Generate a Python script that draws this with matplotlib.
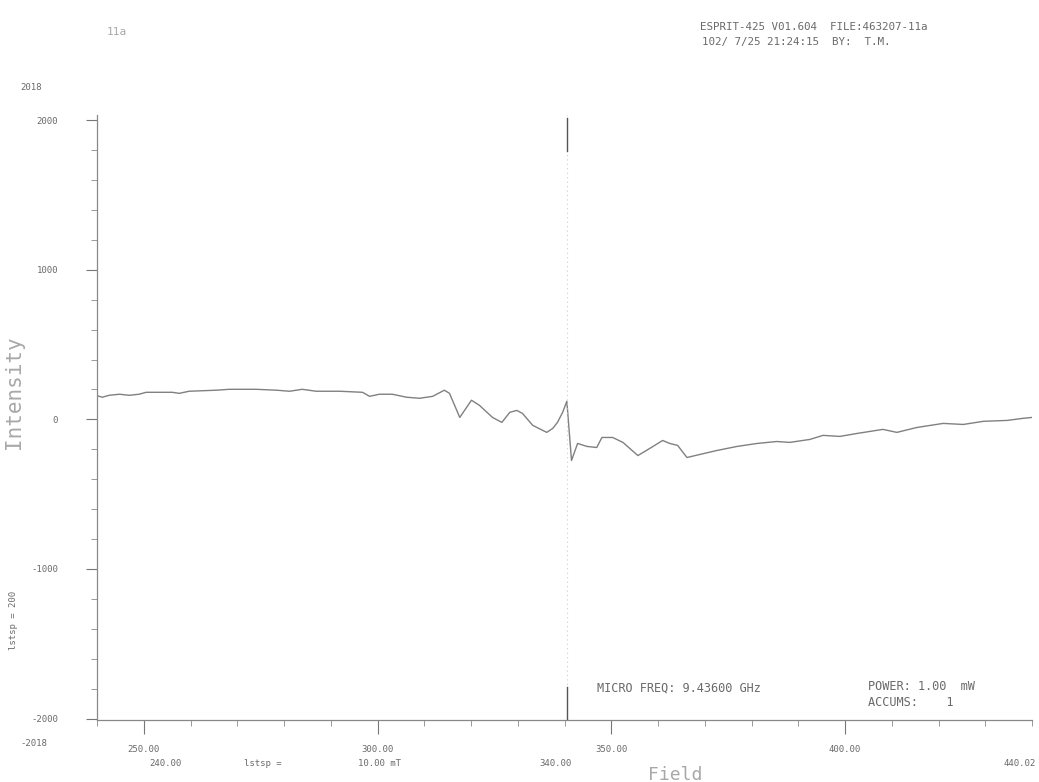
"""ESR spectrum replot: first-derivative trace vs magnetic field, plotter-style layout."""
import matplotlib
matplotlib.use("Agg")
import matplotlib.pyplot as plt
from matplotlib.ticker import MultipleLocator, FixedLocator

# field (mT) and intensity (a.u.)
field = [239.8, 241.1, 242.6, 244.8, 246.9, 249.0, 250.5, 253.3, 256.1, 257.6,
         259.7, 265.5, 268.3, 274.1, 278.4, 281.2, 283.9, 286.9, 289.7, 291.9,
         296.8, 298.3, 300.4, 303.2, 306.2, 309.0, 311.8, 314.3, 315.4, 317.6,
         320.1, 321.8, 324.6, 326.6, 328.3, 329.8, 331.0, 333.2, 336.2, 337.5,
         338.5, 339.6, 340.5, 341.5, 342.8, 344.8, 346.9, 348.0, 350.3, 352.5,
         355.7, 358.2, 361.0, 362.5, 364.2, 366.2, 368.9, 372.6, 376.9, 381.2,
         385.4, 388.2, 392.5, 395.3, 398.9, 402.6, 408.1, 411.1, 415.4, 421.0,
         425.3, 429.6, 434.7, 438.1, 440.0]
intensity = [161, 148, 161, 168, 161, 168, 181, 181, 181, 174,
             188, 195, 201, 201, 195, 188, 201, 188, 188, 188,
             181, 154, 168, 168, 148, 141, 154, 195, 174, 13,
             128, 94, 13, -20, 47, 60, 40, -40, -87, -60,
             -20, 47, 121, -275, -161, -181, -188, -121, -121, -154,
             -242, -195, -141, -161, -174, -255, -235, -208, -181, -161,
             -148, -154, -134, -107, -114, -94, -67, -87, -54, -27,
             -34, -13, -7, 7, 13]

marker_field = 340.5          # field marker (vertical cursor)
x_range = (240.0, 440.0)
y_range = (-2010, 2035)
y_major = [-2000, -1000, 0, 1000, 2000]
x_major = [250, 300, 350, 400]

header = ["ESPRIT-425 V01.604  FILE:463207-11a",
          "102/ 7/25 21:24:15  BY:  T.M."]
freq_text = "MICRO FREQ: 9.43600 GHz"
power_text = "POWER: 1.00  mW"
accum_text = "ACCUMS:    1"

MONO = "DejaVu Sans Mono"
INK = "#6a6a6a"
FAINT = "#a8a8a8"

fig = plt.figure(figsize=(10.39, 7.82), dpi=100)
W, H = 1039, 782
ax = fig.add_axes([97 / W, (H - 720) / H, (1032 - 97) / W, (720 - 115) / H])

ax.plot(field, intensity, color="#808080", lw=1.0)

# cursor: dotted line with solid stubs at both ends
ax.axvline(marker_field, color="#cccccc", lw=0.8, ls=(0, (1, 3)))
ax.axvline(marker_field, ymin=0.94, ymax=0.995, color="#555555", lw=1.0)
ax.axvline(marker_field, ymin=0.0, ymax=0.055, color="#555555", lw=1.0)

ax.set_xlim(*x_range)
ax.set_ylim(*y_range)
for s in ("top", "right"):
    ax.spines[s].set_visible(False)
for s in ("left", "bottom"):
    ax.spines[s].set_color("#888888")
    ax.spines[s].set_linewidth(0.9)

ax.xaxis.set_major_locator(FixedLocator(x_major))
ax.xaxis.set_minor_locator(MultipleLocator(10))
ax.yaxis.set_major_locator(FixedLocator(y_major))
ax.yaxis.set_minor_locator(MultipleLocator(200))
ax.set_xticklabels([f"{v:.2f}" for v in x_major], fontfamily=MONO,
                   fontsize=6.5, color=INK)
ax.set_yticklabels([str(v) for v in y_major], fontfamily=MONO,
                   fontsize=6.5, color=INK)
ax.tick_params(axis="x", which="major", length=10, width=0.8, color="#777777", pad=8)
ax.tick_params(axis="x", which="minor", length=4, width=0.7, color="#999999")
ax.tick_params(axis="y", which="major", length=8, width=0.8, color="#777777", pad=20)
ax.tick_params(axis="y", which="minor", length=4, width=0.7, color="#999999")

# plotter annotations
def px_text(x, y, s, **kw):
    kw.setdefault("fontfamily", MONO)
    kw.setdefault("color", INK)
    kw.setdefault("fontsize", 6.5)
    fig.text(x / W, 1 - y / H, s, **kw)

px_text(700, 27, header[0], fontsize=7.8, va="center")
px_text(702, 42, header[1], fontsize=7.8, va="center")
px_text(107, 32, "11a", fontsize=8, color=FAINT, va="center")
px_text(20, 88, "2018", va="center")
px_text(20, 743, "-2018", va="center")

px_text(597, 688, freq_text, fontsize=8.6, va="center")
px_text(868, 686, power_text, fontsize=8.6, va="center")
px_text(868, 703, accum_text, fontsize=8.6, va="center")

px_text(165, 763, "240.00", ha="center", va="center")
px_text(263, 763, "lstsp =", ha="center", va="center")
px_text(380, 763, "10.00 mT", ha="center", va="center")
px_text(555, 763, "340.00", ha="center", va="center")
px_text(1020, 763, "440.02", ha="center", va="center")
px_text(14, 620, "lstsp = 200", rotation=90, ha="center", va="center")

px_text(675, 775, "Field", fontsize=13, color=FAINT, ha="center", va="center")
px_text(14, 392, "Intensity", fontsize=15, color=FAINT, rotation=90,
        ha="center", va="center")

fig.savefig("out.png", dpi=100)
